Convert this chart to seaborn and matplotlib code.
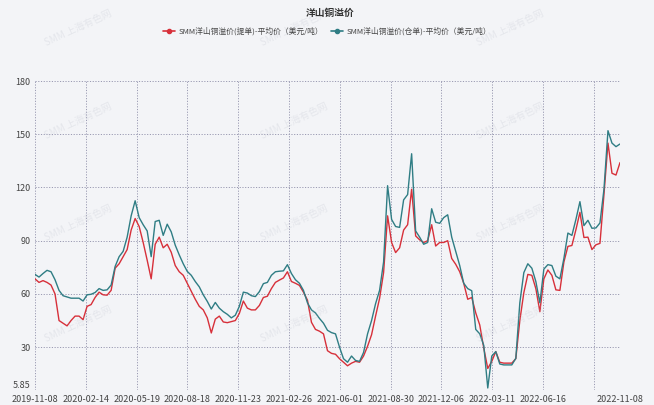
import numpy as np
import pandas as pd
import matplotlib
matplotlib.use("Agg")
import matplotlib.pyplot as plt
import seaborn as sns
from matplotlib.lines import Line2D

# weekly-ish samples (USD/t)
bl_premium = [
    68.5, 66.5, 67.5, 66.5, 65, 60, 45, 43.5, 42, 45,
    47.5, 47.5, 45.5, 53, 54, 58, 61, 59.5, 59.3, 62,
    74.5, 77, 81, 85, 96, 102.5, 98, 89, 79, 68.5,
    88, 92, 86, 88, 83.5, 76, 72.5, 70.5, 66, 61.5,
    57, 53, 51, 46.5, 38, 45.8, 47.5, 44.2, 43.8, 44.4,
    45, 49, 56, 52, 51, 51, 53.5, 58, 58.7, 63,
    66.5, 67.8, 69, 72.5, 67, 66, 64.8, 61, 56.5, 44,
    40, 39, 37.5, 28, 26.5, 26, 23.5, 21.5, 19.5, 21,
    22, 21.5, 25, 30.5, 37, 47.5, 57.5, 72, 104, 89,
    83.3, 86, 96, 99, 119, 92.7, 90.5, 89, 90, 99,
    87, 89, 89, 90, 80, 76.7, 72.5, 66, 57, 58,
    49.3, 42.5, 29.5, 18, 22, 27.5, 21.5, 21, 21, 21,
    23.5, 45, 60.7, 71, 70.5, 63, 50, 68.5, 73.5, 70.5,
    62.3, 62, 78, 86.8, 87.3, 96.2, 106, 91.8, 92, 85,
    87.7, 88.5, 116, 145, 128, 127, 134,
]
wr_premium = [
    71, 69.5, 71.5, 73.3, 72.5, 68, 62, 59, 58.3, 57.6,
    57.6, 57.6, 56, 59.5, 59.8, 60.8, 63, 62, 62.3, 65,
    75.5, 81, 84, 92, 104, 112.5, 103, 99, 95.5, 81,
    100.8, 101.5, 93, 99.3, 95, 87.5, 82, 77, 72.7, 70.5,
    67, 64, 59.5, 55.8, 51.5, 55.2, 52, 50, 48.5, 46.5,
    48, 53, 61, 60.5, 59, 58.5, 61.3, 65.8, 66.5, 70.5,
    72.5, 72.8, 73, 76.5, 71.5, 68, 66, 62, 55, 51,
    49.3, 46.2, 43.5, 39.5, 38.2, 37.5, 30, 23.5, 21.5, 25,
    22.5, 22, 27, 37.5, 45, 54.5, 62, 78, 121, 102,
    98, 97.5, 113, 116, 139, 95.5, 92, 88, 89, 108,
    100.4, 99.8, 103, 104.6, 92, 84, 76, 66, 63, 61.8,
    40, 37.5, 31, 7, 25, 27.5, 20.5, 20, 20, 20,
    23.7, 55, 72, 77, 74.5, 67, 55, 74, 76.5, 76,
    70, 68.5, 80, 94.3, 93, 102, 112, 98.5, 101.5, 97,
    97.2, 100, 119, 152, 145, 143, 144.5,
]
date_labels = ["2019-11-08", "2020-02-14", "2020-05-19", "2020-08-18",
               "2020-11-23", "2021-02-26", "2021-06-01", "2021-08-30",
               "2021-12-06", "2022-03-11", "2022-06-16", "", "2022-11-08"]
y_ticks = [5.85, 30, 60, 90, 120, 150, 180]
series_names = ["SMM洋山铜溢价(提单)-平均价（美元/吨）",
                "SMM洋山铜溢价(仓单)-平均价（美元/吨）"]
colors = ["#d7303a", "#2f7d84"]

n = len(bl_premium)
df = pd.DataFrame({
    "idx": np.arange(n),
    series_names[0]: bl_premium,
    series_names[1]: wr_premium,
}).melt(id_vars="idx", var_name="series", value_name="price")

sns.set_theme(style="white")
plt.rcParams["font.family"] = ["Noto Sans CJK SC", "DejaVu Sans"]
bg = "#f3f4f7"

fig = plt.figure(figsize=(6.54, 4.05), dpi=100, facecolor=bg)
ax = fig.add_axes([0.0535, 0.037, 0.8945, 0.763])
ax.set_facecolor(bg)

sns.lineplot(data=df, x="idx", y="price", hue="series", palette=colors,
             linewidth=1.0, ax=ax, legend=False)

step = 12.68
tick_pos = [step * k for k in range(12)] + [n - 1]
ax.set_xticks(tick_pos)
ax.set_xticklabels(date_labels, fontsize=6.5, color="#444444")
ax.set_xlim(0, n - 1)
ax.set_ylim(5.85, 180)
ax.set_yticks(y_ticks)
ax.set_yticklabels(["5.85", "30", "60", "90", "120", "150", "180"],
                   fontsize=6.5, color="#444444")
ax.tick_params(axis="y", length=0, pad=3)
ax.tick_params(axis="x", length=0, pad=3.5)
# nudge the bottom y label up so it clears the first date
ax.get_yticklabels()[0].set_verticalalignment("bottom")
ax.set_xlabel("")
ax.set_ylabel("")
ax.grid(True, linestyle=(0, (1.2, 1.6)), color="#9a9ab2", linewidth=0.7)
ax.get_ygridlines()[0].set_visible(False)
for s in ax.spines.values():
    s.set_visible(False)

# faint watermark
for wx in [0.12, 0.45, 0.78]:
    for wy in [0.2, 0.45, 0.7, 0.93]:
        fig.text(wx, wy, "SMM 上海有色网", fontsize=7, color="#b8bcc8",
                 alpha=0.25, rotation=25, ha="center", va="center")

fig.text(0.505, 0.968, "洋山铜溢价", fontsize=7, fontweight="bold",
         color="#333333", ha="center", va="center")
handles = [Line2D([0], [0], color=c, marker="o", markersize=3, linewidth=1.2)
           for c in colors]
fig.legend(handles, series_names, loc="center", bbox_to_anchor=(0.5, 0.923),
           ncol=2, frameon=False, fontsize=5.6, handlelength=1.6,
           handletextpad=0.4, columnspacing=1.0, labelcolor="#444444")

fig.savefig("out.png", dpi=100, facecolor=bg)
